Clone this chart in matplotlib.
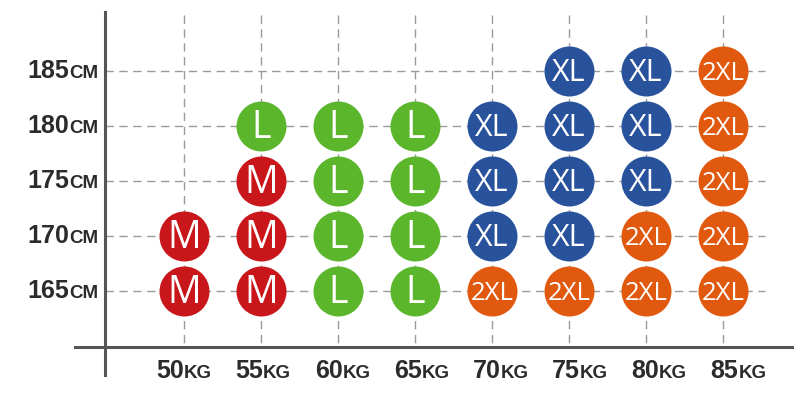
import matplotlib
matplotlib.use("Agg")
import matplotlib.pyplot as plt

weights = [50, 55, 60, 65, 70, 75, 80, 85]
heights = [165, 170, 175, 180, 185]
# size chart: rows = heights (165..185), columns = weights
sizes = {
    165: ["M", "M", "L", "L", "2XL", "2XL", "2XL", "2XL"],
    170: ["M", "M", "L", "L", "XL", "XL", "2XL", "2XL"],
    175: [None, "M", "L", "L", "XL", "XL", "XL", "2XL"],
    180: [None, "L", "L", "L", "XL", "XL", "XL", "2XL"],
    185: [None, None, None, None, None, "XL", "XL", "2XL"],
}
size_colors = {"M": "#C8161B", "L": "#5BB62C", "XL": "#28529B", "2XL": "#E0590E"}
size_fontsize = {"M": 27, "L": 27, "XL": 22, "2XL": 18.5}

W, H = 794, 401
fig = plt.figure(figsize=(W / 100, H / 100), dpi=100)
ax = fig.add_axes([0, 0, 1, 1])
ax.set_axis_off()

# pixel mapping: 50kg -> x=184, 77px per 5kg ; 165cm -> y=291, 55px per 5cm
px_per_kg = 77 / 5
px_per_cm = 55 / 5
x0 = 50 - 184 / px_per_kg
x1 = 50 + (W - 184) / px_per_kg
y_top = 165 + 291 / px_per_cm
y_bot = 165 - (H - 291) / px_per_cm
ax.set_xlim(x0, x1)
ax.set_ylim(y_bot, y_top)

def xd(px):
    return x0 + px / px_per_kg

def yd(py):
    return y_top - py / px_per_cm

grid_kw = dict(color="#9a9a9a", lw=1.0, ls=(0, (6, 4)), zorder=1)
for h in heights:
    ax.plot([xd(105), xd(765)], [h, h], **grid_kw)
for w in weights:
    ax.plot([w, w], [yd(15), yd(347)], **grid_kw)

# axes lines (cross)
ax.plot([xd(105), xd(105)], [yd(12), yd(375)], color="#555555", lw=2.2, zorder=2)
ax.plot([xd(75), xd(792)], [yd(347), yd(347)], color="#555555", lw=2.2, zorder=2)

# circles
for h in heights:
    for w, s in zip(weights, sizes[h]):
        if s is None:
            continue
        ax.scatter([w], [h], s=36 ** 2, color=size_colors[s], zorder=3, linewidths=0)
        ax.text(w, h - 0.2, s, color="white", fontsize=size_fontsize[s],
                family="Open Sans", ha="center", va="center", zorder=4)

lab_color = "#2b2b2b"
lab_font = dict(fontweight="bold", family="Liberation Sans", color=lab_color)
# y tick labels
cm_texts = []
for h in heights:
    cm = ax.text(xd(98), h - 0.65, "CM", fontsize=13.5, ha="right", va="baseline", **lab_font)
    cm_texts.append((h, cm))
fig.canvas.draw()
renderer = fig.canvas.get_renderer()
inv = ax.transData.inverted()
for h, cm in cm_texts:
    bb = cm.get_window_extent(renderer)
    xleft = inv.transform((bb.x0, bb.y0))[0]
    ax.text(xleft, h - 0.65, str(h), fontsize=18, ha="right", va="baseline", **lab_font)

# x tick labels
for i, w in enumerate(weights):
    xc = w + (i * 2.2) / px_per_kg
    ax.text(xc, yd(378), str(w), fontsize=18, ha="right", va="baseline", **lab_font)
    ax.text(xc, yd(378), "KG", fontsize=13.5, ha="left", va="baseline", **lab_font)

fig.savefig("out.png", dpi=100)
